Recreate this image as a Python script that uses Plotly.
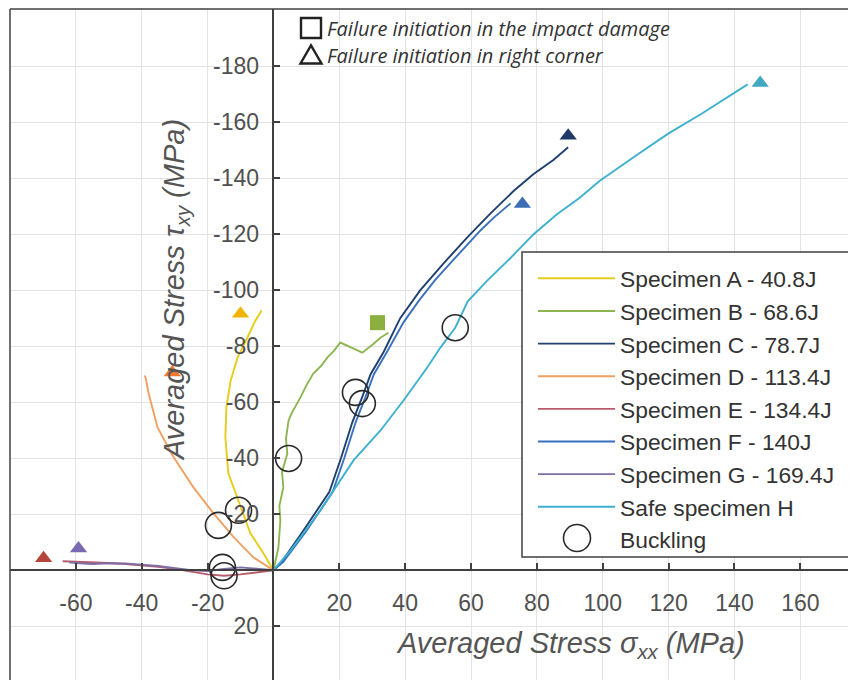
import plotly.graph_objects as go

# ---------------- data ----------------
names = ["Specimen A - 40.8J", "Specimen B - 68.6J", "Specimen C - 78.7J",
         "Specimen D - 113.4J", "Specimen E - 134.4J", "Specimen F - 140J",
         "Specimen G - 169.4J", "Safe specimen H"]

a_x = [0, -3, -7, -10, -13.7, -14.6, -14.3, -13.0, -10.9, -7.9, -5.5, -3.6]
a_y = [0, -6, -13.2, -22.5, -34.6, -47.4, -58.1, -67.7, -75.9, -83.1, -89.1, -92.7]

b_x = [0, 1.5, 2.1, 1.8, 3.0, 2.6, 4.2, 3.8, 4.6, 5.5, 8.2, 10.0, 12.1, 14.5, 16.4, 18.5, 20.3, 23.5, 27.0, 30.4, 32.5, 34.9]
b_y = [0, -8, -17.8, -23, -29.6, -35, -41.6, -47, -53.5, -56, -61.7, -66, -70.2, -73, -76.0, -78.5, -81.3, -79.5, -77.7, -80.9, -83, -84.8]

c_x = [0, 2.5, 9, 17, 20.5, 24, 27, 29.5, 33.5, 38.5, 44.6, 51.6, 59, 66, 73, 79, 85, 89.5]
c_y = [0, -3, -14, -28, -40, -53, -62, -70, -78, -90, -100, -109.5, -119, -127.5, -135.5, -141.5, -146.5, -151]

d_x = [0, -6.1, -12.1, -18.2, -24.3, -30.3, -35.2, -37.9, -38.8, -39.2]
d_y = [0, -4.6, -11.8, -20.3, -29.6, -40.3, -51.0, -63.1, -68.8, -69.5]

e_x = [0, -5, -10, -15, -20, -25, -30, -35, -40, -45, -50, -55, -60, -64]
e_y = [0, 0.8, 1.5, 2.0, 1.5, 0.5, -0.5, -1.2, -1.8, -2.2, -2.6, -2.8, -3.0, -3.2]

f_x = [0, 3, 10, 18, 21.5, 25, 28, 30.5, 34.5, 39.5, 44, 49, 54, 59, 63, 67, 72]
f_y = [0, -3, -14, -28, -40, -53, -62, -70, -78, -88.5, -96, -103.5, -110, -116.5, -121.5, -126, -131]

g_x = [0, -5, -10, -15, -20, -25, -30, -35, -40, -45, -50, -55, -60, -62]
g_y = [0, -0.5, -1.0, -0.5, 0.3, 0.0, -0.8, -1.5, -2.0, -2.4, -2.5, -2.2, -2.6, -2.8]

h_x = [0, 5.2, 14.3, 24.3, 32.5, 39.5, 46.7, 50.7, 55.2, 59, 65, 72, 79, 86, 93, 99, 110, 120, 130, 138, 144]
h_y = [0, -7.1, -21.4, -39.2, -49.9, -60.6, -72.4, -79.5, -86.6, -96, -103.5, -111.5, -120, -127, -133, -139, -148, -156, -163, -169, -173.5]

# failure initiation markers
tri_x = [-10.0, 89.5, -30.7, -69.8, 75.6, -59.2, 147.8]
tri_y = [-91.6, -155.1, -70.6, -4.3, -130.8, -7.8, -174.0]
tri_c = ["#F0B400", "#1F3A68", "#F07830", "#B5453A", "#3D6DB5", "#7A68B0", "#40A8C0"]
sq_x = [31.6]
sq_y = [-88.4]

# buckling points
buck_x = [-16.7, -10.6, -15.5, -15.0, 4.6, 24.9, 27.0, 55.2]
buck_y = [-16.0, -21.4, -1.0, 2.0, -39.9, -63.5, -59.5, -86.6]

x_ticks = [-60, -40, -20, 20, 40, 60, 80, 100, 120, 140, 160]
y_ticks = [-180, -160, -140, -120, -100, -80, -60, -40, -20, 20]

# ---------------- styling ----------------
line_colors = ["#E8CC1C", "#8DB652", "#1F3F6E", "#F0A060",
               "#B85C6C", "#3A70C0", "#7E6EA6", "#3EB0D0"]
series = [(a_x, a_y), (b_x, b_y), (c_x, c_y), (d_x, d_y),
          (e_x, e_y), (f_x, f_y), (g_x, g_y), (h_x, h_y)]

# the page body has an 8px margin, so the figure is sized to fill the window
OFF = 8
W, H = 848, 672
ML, MR, MT, MB = 2, 0, 1, 0
XR = [-80, 176.9]
YR = [39.2, -200.4]   # reversed (negative up)

def px(xp):   # window pixel -> paper fraction
    return (xp - OFF - ML) / (W - ML - MR)

def py(yp):
    return 1 - (yp - OFF - MT) / (H - MT - MB)

fig = go.Figure()

for i, (xs, ys) in enumerate(series):
    fig.add_trace(go.Scatter(x=xs, y=ys, mode="lines", name=names[i],
                             line=dict(color=line_colors[i], width=1.9),
                             legendgroup=str(i)))

fig.add_trace(go.Scatter(x=tri_x, y=tri_y, mode="markers", showlegend=False,
                         marker=dict(symbol="triangle-up", size=15, color=tri_c)))
fig.add_trace(go.Scatter(x=sq_x, y=sq_y, mode="markers", showlegend=False,
                         marker=dict(symbol="square", size=15, color="#8CB040")))
fig.add_trace(go.Scatter(x=buck_x, y=buck_y, mode="markers", showlegend=False,
                         marker=dict(symbol="circle-open", size=26,
                                     color="#2a2a2a", line=dict(width=1.6))))
# legend entry for buckling (circle drawn as a shape to match its size)
fig.add_trace(go.Scatter(x=[None], y=[None], mode="markers", name="Buckling",
                         legendgroup="9",
                         marker=dict(symbol="circle-open", size=10,
                                     color="rgba(0,0,0,0)")))

tick_font = dict(family="Liberation Sans, Arial", size=23, color="#505050")
x0frac = (0 - XR[0]) / (XR[1] - XR[0])
y0frac = (YR[0] - 0) / (YR[0] - YR[1])

fig.update_layout(
    width=W, height=H,
    margin=dict(l=ML, r=MR, t=MT, b=MB, autoexpand=False),
    paper_bgcolor="white", plot_bgcolor="white",
    showlegend=True,
    legend=dict(x=px(533), y=py(257), xanchor="left", yanchor="top",
                bgcolor="rgba(0,0,0,0)", borderwidth=0,
                font=dict(family="Liberation Sans, Arial", size=22.8, color="#333333"),
                itemwidth=77, tracegroupgap=0, traceorder="normal"),
    xaxis=dict(range=XR, anchor="free", position=y0frac, automargin=False,
               tickvals=x_ticks, ticktext=[str(v) for v in x_ticks],
               showgrid=True, gridcolor="#e3e3e3", gridwidth=1,
               zeroline=False, showline=True, linecolor="#404040", linewidth=1.5,
               ticks="inside", ticklen=6, tickwidth=1.5, tickcolor="#404040",
               tickfont=tick_font, ticklabelstandoff=12),
    yaxis=dict(range=YR, anchor="free", position=x0frac, automargin=False,
               tickvals=y_ticks, ticktext=[str(v) for v in y_ticks],
               showgrid=True, gridcolor="#e3e3e3", gridwidth=1,
               zeroline=False, showline=True, linecolor="#404040", linewidth=1.5,
               ticks="inside", ticklen=6, tickwidth=1.5, tickcolor="#404040",
               tickfont=tick_font, ticklabelstandoff=9),
)

# frame (left and top border)
fig.add_shape(type="line", xref="paper", yref="paper", x0=0, x1=1, y0=1, y1=1,
              line=dict(color="#404040", width=1.5))
fig.add_shape(type="line", xref="paper", yref="paper", x0=0, x1=0, y0=0, y1=1,
              line=dict(color="#404040", width=1.5))

# legend box (white panel with border) and the large buckling circle
fig.add_shape(type="rect", xref="paper", yref="paper",
              x0=px(522), x1=px(854), y0=py(557), y1=py(252),
              fillcolor="white", line=dict(color="#404040", width=1.5), layer="above")
fig.add_shape(type="circle", xref="paper", yref="paper", xsizemode="pixel", ysizemode="pixel",
              xanchor=px(577), yanchor=py(538), x0=-13.5, x1=13.5, y0=-13.5, y1=13.5,
              line=dict(color="#2a2a2a", width=1.6), layer="above")

# axis titles
title_font = dict(family="Liberation Sans, Arial", size=29, color="#555555")
fig.add_annotation(xref="paper", yref="paper", x=px(570), y=py(645),
                   xanchor="center", yanchor="middle",
                   text="<i>Averaged Stress\u00a0σ<sub>xx</sub>\u00a0(MPa)</i>", showarrow=False,
                   font=title_font)
fig.add_annotation(xref="paper", yref="paper", x=px(176), y=py(290), textangle=-90,
                   xanchor="center", yanchor="middle",
                   text="<i>Averaged Stress\u00a0τ<sub>xy</sub>\u00a0(MPa)</i>", showarrow=False,
                   font=title_font)

# failure initiation key
note_font = dict(family="Open Sans", size=20, color="#333333")
fig.add_annotation(xref="paper", yref="paper", x=px(325), y=py(28),
                   xanchor="left", yanchor="middle",
                   text="<i>Failure initiation in the impact damage</i>",
                   showarrow=False, font=note_font)
fig.add_annotation(xref="paper", yref="paper", x=px(325), y=py(55),
                   xanchor="left", yanchor="middle",
                   text="<i>Failure initiation in right corner</i>",
                   showarrow=False, font=note_font)
fig.add_shape(type="rect", xref="paper", yref="paper", xsizemode="pixel", ysizemode="pixel",
              xanchor=px(311), yanchor=py(28), x0=-10, x1=10, y0=-10, y1=10,
              line=dict(color="#222222", width=2.4))
fig.add_shape(type="path", xref="paper", yref="paper", xsizemode="pixel", ysizemode="pixel",
              xanchor=px(311), yanchor=py(55), path="M-10.5,-8.5 L10.5,-8.5 L0,9.5 Z",
              line=dict(color="#222222", width=2.4))

fig.write_html("out.html")
